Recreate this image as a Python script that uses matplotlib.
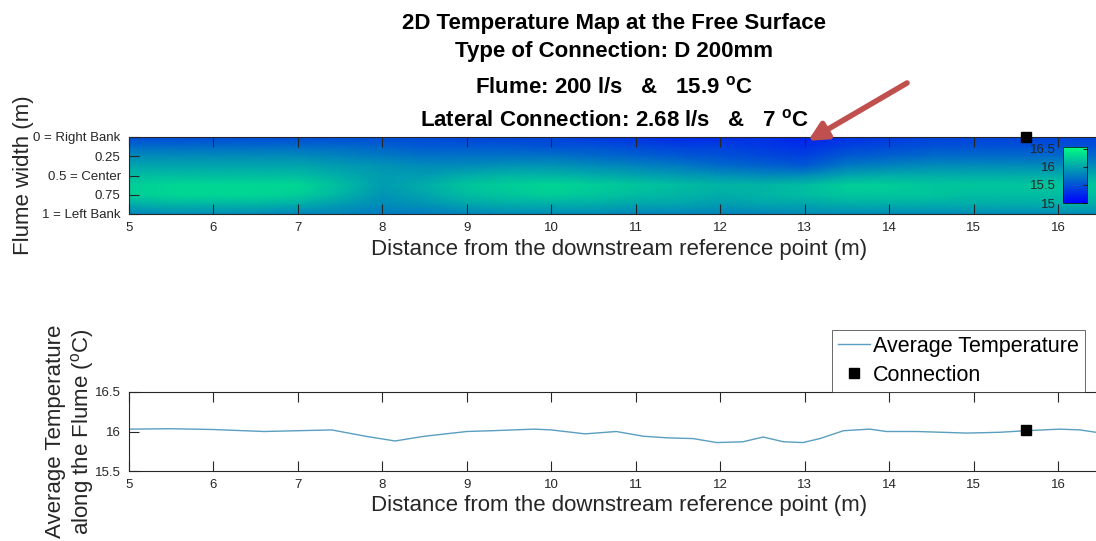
import numpy as np
import matplotlib
matplotlib.use('Agg')
import matplotlib.pyplot as plt

plt.rcParams['font.family'] = ['Liberation Sans', 'DejaVu Sans']
plt.rcParams['mathtext.fontset'] = 'custom'
plt.rcParams['mathtext.rm'] = 'Liberation Sans'
plt.rcParams['mathtext.bf'] = 'Liberation Sans:bold'

# distance along the flume (m) and width positions (normalised)
dist = np.arange(5.0, 16.51, 0.5)
width = np.array([0, 0.125, 0.25, 0.375, 0.5, 0.625, 0.75, 0.875, 1.0])

# surface temperature (deg C), one row per width position
temp_map = np.array([
    [15.45, 15.45, 15.45, 15.45, 15.45, 15.45, 15.45, 15.45, 15.4, 15.4, 15.4, 15.35, 15.3, 15.25, 15.25, 15.3, 15.2, 15.3, 15.35, 15.4, 15.4, 15.4, 15.4, 15.4],
    [15.65, 15.65, 15.65, 15.65, 15.65, 15.65, 15.6, 15.55, 15.55, 15.55, 15.5, 15.5, 15.45, 15.4, 15.4, 15.35, 15.3, 15.4, 15.45, 15.5, 15.5, 15.5, 15.5, 15.5],
    [15.85, 15.85, 15.85, 15.85, 15.85, 15.8, 15.75, 15.7, 15.7, 15.7, 15.7, 15.65, 15.6, 15.55, 15.5, 15.45, 15.4, 15.55, 15.6, 15.65, 15.65, 15.65, 15.65, 15.65],
    [16.0, 16.0, 16.0, 16.0, 16.0, 15.95, 15.9, 15.85, 15.85, 15.9, 15.9, 15.85, 15.8, 15.75, 15.65, 15.6, 15.55, 15.75, 15.8, 15.85, 15.85, 15.85, 15.85, 15.85],
    [16.15, 16.15, 16.15, 16.15, 16.15, 16.05, 15.95, 15.95, 16.05, 16.1, 16.1, 16.05, 16.0, 15.95, 15.9, 15.85, 15.85, 16.0, 16.05, 16.05, 16.05, 16.05, 16.05, 16.05],
    [16.25, 16.3, 16.3, 16.3, 16.3, 16.15, 15.95, 16.05, 16.2, 16.25, 16.3, 16.25, 16.2, 16.15, 16.1, 16.1, 16.15, 16.25, 16.25, 16.2, 16.2, 16.2, 16.2, 16.2],
    [16.25, 16.3, 16.3, 16.3, 16.25, 16.1, 15.9, 16.0, 16.15, 16.2, 16.25, 16.2, 16.15, 16.1, 16.05, 16.1, 16.15, 16.2, 16.2, 16.2, 16.15, 16.15, 16.15, 16.15],
    [16.05, 16.1, 16.1, 16.1, 16.05, 15.95, 15.85, 15.9, 16.0, 16.05, 16.05, 16.05, 16.0, 16.0, 15.95, 16.0, 16.0, 16.05, 16.05, 16.05, 16.05, 16.05, 16.05, 16.05],
    [15.8, 15.85, 15.85, 15.85, 15.8, 15.8, 15.75, 15.75, 15.8, 15.85, 15.85, 15.85, 15.8, 15.8, 15.8, 15.8, 15.85, 15.85, 15.85, 15.85, 15.85, 15.85, 15.85, 15.85],
])

# average temperature along the flume
avg_x = [5.0, 5.5, 6.0, 6.6, 7.0, 7.4, 7.8, 8.15, 8.5, 9.0, 9.3, 9.8, 10.0, 10.4,
         10.77, 11.09, 11.37, 11.68, 11.96, 12.27, 12.51, 12.75, 12.98, 13.18,
         13.46, 13.77, 13.97, 14.33, 14.92, 15.31, 15.62, 16.02, 16.26, 16.45, 16.6]
avg_t = [16.03, 16.035, 16.025, 16.0, 16.01, 16.02, 15.94, 15.88, 15.94, 16.0,
         16.01, 16.03, 16.02, 15.97, 16.0, 15.94, 15.92, 15.91, 15.86, 15.87,
         15.93, 15.87, 15.86, 15.91, 16.01, 16.03, 16.0, 16.0, 15.98, 15.99,
         16.01, 16.03, 16.02, 15.99, 15.98]

conn_x = 15.62
conn_t = 16.02

W, H = 1096, 541
fig = plt.figure(figsize=(W / 100, H / 100), dpi=100)
grey = '#262626'

def px_axes(x0, x1, ytop, ybot):
    return fig.add_axes([x0 / W, 1 - ybot / H, (x1 - x0) / W, (ybot - ytop) / H])

xmax = 5 + (1110 - 129) / 84.45

# ---- top: 2D map
ax1 = px_axes(129, 1110, 137, 214)
mesh = ax1.pcolormesh(dist, width, temp_map, cmap='winter', shading='gouraud',
                      vmin=15.0, vmax=16.55)
ax1.plot(conn_x, 0, 's', color='black', ms=7, clip_on=False, zorder=5)
ax1.set_xlim(5, xmax)
ax1.set_ylim(1, 0)
ax1.set_yticks([0, 0.25, 0.5, 0.75, 1])
ax1.set_yticklabels(['0 = Right Bank', '0.25', '0.5 = Center', '0.75', '1 = Left Bank'])
ax1.set_xticks(range(5, 17))
ax1.set_xlabel('Distance from the downstream reference point (m)', fontsize=16, labelpad=3)
ax1.set_ylabel('Flume width (m)', fontsize=16)
ax1.yaxis.set_label_coords((34 - 129) / 981, 0.5)

cax = px_axes(1063, 1087, 147, 203)
cb = fig.colorbar(mesh, cax=cax)
cb.set_ticks([15, 15.5, 16, 16.5])
cb.set_ticklabels(['15', '15.5', '16', '16.5'])
cax.tick_params(left=False, right=True, labelleft=True, labelright=False,
                direction='in', length=3, labelsize=9.5, colors=grey, pad=5)
cb.outline.set_linewidth(0.5)

# ---- bottom: averaged profile
ax2 = px_axes(129, 1110, 392, 471)
ax2.plot(avg_x, avg_t, color='#5a9ec0', lw=1, label='Average Temperature')
ax2.plot(conn_x, conn_t, 's', color='black', ms=7, label='Connection')
ax2.set_xlim(5, xmax)
ax2.set_ylim(15.5, 16.5)
ax2.set_yticks([15.5, 16, 16.5])
ax2.set_yticklabels(['15.5', '16', '16.5'])
ax2.set_xticks(range(5, 17))
ax2.set_xlabel('Distance from the downstream reference point (m)', fontsize=16, labelpad=3)
ax2.set_ylabel('Average Temperature\nalong the Flume ($^\\mathregular{o}$C)', fontsize=16,
               linespacing=1.15)
ax2.yaxis.set_label_coords((96 - 129) / 981, 0.5)
leg = ax2.legend(loc='lower left', bbox_to_anchor=(832 / W, 1 - 392 / H),
                 bbox_transform=fig.transFigure, fontsize=15.5, frameon=True,
                 fancybox=False, borderaxespad=0, handlelength=1.45,
                 handletextpad=0.15, borderpad=0.3, labelspacing=0.35)
leg.get_frame().set_edgecolor(grey)
leg.get_frame().set_linewidth(0.6)

for ax in (ax1, ax2):
    ax.tick_params(direction='in', length=7, top=True, labelsize=9.5, colors=grey,
                   pad=6, width=0.8)
    for s in ax.spines.values():
        s.set_color(grey)
        s.set_linewidth(0.8)
    ax.xaxis.label.set_color(grey)
    ax.yaxis.label.set_color(grey)

# ---- title block
titles = ['2D Temperature Map at the Free Surface',
          'Type of Connection: D 200mm',
          r'Flume: 200 l/s   &   15.9 $^\mathbf{o}$C',
          r'Lateral Connection: 2.68 l/s   &   7 $^\mathbf{o}$C']
ypos = [24, 52, 87, 120]
for t, yp in zip(titles, ypos):
    fig.text(614 / W, 1 - yp / H, t, ha='center', va='center', fontsize=16,
             fontweight='bold', color='black')

# ---- arrow pointing at the cold plume
ax1.annotate('', xy=(13.04, 0.05), xycoords='data',
             xytext=(907 / W, 1 - 83 / H), textcoords='figure fraction',
             arrowprops=dict(arrowstyle='-|>,head_width=0.55,head_length=1.1',
                             lw=4, color='#c0504d', shrinkA=0, shrinkB=0),
             annotation_clip=False)

fig.savefig('out.png', dpi=100)
